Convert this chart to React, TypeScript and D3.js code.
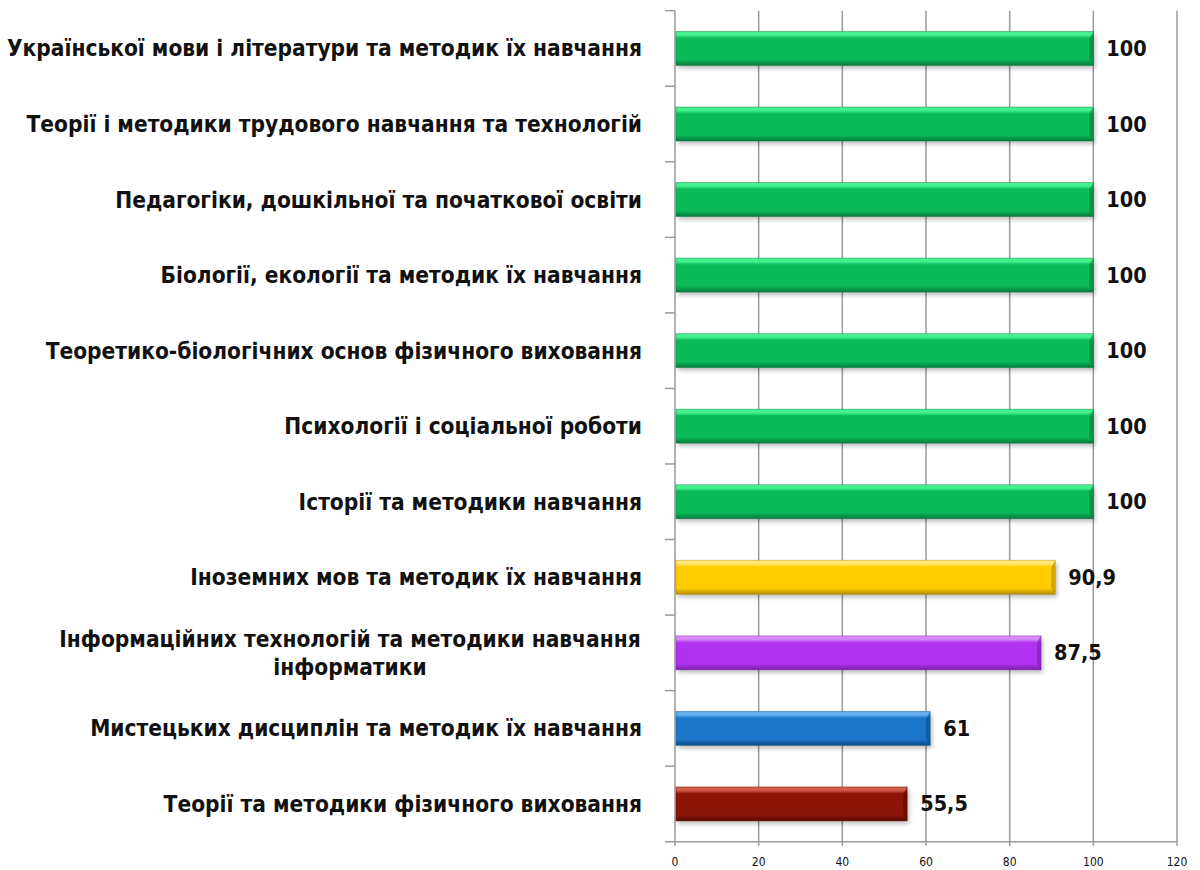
import React from "react";
import * as d3 from "d3";

const categories: string[][] = [
  ["Української мови і літератури та методик їх навчання"],
  ["Теорії і методики трудового навчання та технологій"],
  ["Педагогіки, дошкільної та початкової освіти"],
  ["Біології, екології та методик їх навчання"],
  ["Теоретико-біологічних основ фізичного виховання"],
  ["Психології і соціальної роботи"],
  ["Історії та методики навчання"],
  ["Іноземних мов та методик їх навчання"],
  ["Інформаційних технологій та методики навчання", "інформатики"],
  ["Мистецьких дисциплін та методик їх навчання"],
  ["Теорії та методики фізичного виховання"],
];
const values: number[] = [100, 100, 100, 100, 100, 100, 100, 90.9, 87.5, 61, 55.5];
const valueLabels: string[] = ["100", "100", "100", "100", "100", "100", "100", "90,9", "87,5", "61", "55,5"];
const colorKeys: string[] = ["green", "green", "green", "green", "green", "green", "green", "yellow", "purple", "blue", "red"];
const xTicks: number[] = [0, 20, 40, 60, 80, 100, 120];

const palette: Record<string, { light: string; main: string; dark: string }> = {
  green: { light: "#45f08f", main: "#0aba5b", dark: "#067a3c" },
  yellow: { light: "#ffe873", main: "#ffcc00", dark: "#b58a00" },
  purple: { light: "#d98aff", main: "#b133f2", dark: "#7a1eb0" },
  blue: { light: "#62aef0", main: "#1b75c9", dark: "#0d4d8c" },
  red: { light: "#d45a4a", main: "#8c1508", dark: "#560b03" },
};

const LEFT = 675;
const RIGHT = 1177;
const TOP = 10.7;
const BOTTOM = 841.7;
const FONT = "'Liberation Sans Narrow', 'DejaVu Sans Condensed', 'Arial Narrow', sans-serif";

export default function App() {
  const x = d3.scaleLinear().domain([0, 120]).range([LEFT, RIGHT]);
  const bandIdx = d3.range(categories.length);
  const y = d3.scaleBand<number>().domain(bandIdx).range([TOP, BOTTOM]).paddingInner(0.55).paddingOuter(0.275);
  const step = y.step();
  const bh = y.bandwidth();

  return (
    <svg width={1200} height={870} style={{ position: "absolute", left: 0, top: 0, background: "#fff" }}>
      <defs>
        {Object.entries(palette).map(([k, c]) => (
          <linearGradient key={k} id={`g-${k}`} x1="0" y1="0" x2="0" y2="1">
            <stop offset="0" stopColor={c.light} />
            <stop offset="0.1" stopColor={c.light} />
            <stop offset="0.2" stopColor={c.main} />
            <stop offset="0.82" stopColor={c.main} />
            <stop offset="1" stopColor={c.dark} />
          </linearGradient>
        ))}
        <filter id="shadow" x="-5%" y="-50%" width="110%" height="200%">
          <feGaussianBlur stdDeviation="2" />
        </filter>
      </defs>

      {/* gridlines */}
      {xTicks.slice(1).map((t) => (
        <line key={t} x1={x(t)} x2={x(t)} y1={TOP} y2={BOTTOM + 4} stroke="#9a9a9a" strokeWidth={1.5} />
      ))}
      {/* y axis */}
      <line x1={LEFT} x2={LEFT} y1={TOP} y2={BOTTOM + 4} stroke="#9a9a9a" strokeWidth={1.5} />
      {d3.range(categories.length + 1).map((i) => (
        <line key={i} x1={LEFT - 10} x2={LEFT} y1={TOP + i * step} y2={TOP + i * step} stroke="#9a9a9a" strokeWidth={1.5} />
      ))}
      {/* x axis */}
      <line x1={LEFT} x2={RIGHT} y1={BOTTOM} y2={BOTTOM} stroke="#9a9a9a" strokeWidth={1.5} />
      {xTicks.map((t) => (
        <text key={t} x={x(t)} y={866} textAnchor="middle" fontSize={12} fontFamily="'DejaVu Sans Condensed', 'DejaVu Sans', sans-serif" fill="#111">
          {t}
        </text>
      ))}

      {/* bars */}
      {values.map((v, i) => {
        const y0 = y(i)!;
        const x0 = x(0) + 1;
        const x1 = x(v);
        const c = palette[colorKeys[i]];
        const bev = 4;
        return (
          <g key={i}>
            <rect x={x0 + 2} y={y0 + 3} width={x1 - x0} height={bh} fill="#000" opacity={0.25} filter="url(#shadow)" />
            <rect x={x0} y={y0} width={x1 - x0} height={bh} fill={`url(#g-${colorKeys[i]})`} />
            <polygon
              points={`${x1 - bev},${y0 + bh * 0.2} ${x1},${y0} ${x1},${y0 + bh} ${x1 - bev},${y0 + bh * 0.8}`}
              fill={c.dark}
              opacity={0.6}
            />
            <rect x={x0} y={y0} width={x1 - x0} height={bh} fill="none" stroke={c.dark} strokeOpacity={0.5} strokeWidth={0.8} />
            <text
              x={x1 + 13}
              y={y0 + bh / 2 + 7.5}
              fontSize={21.5}
              fontWeight="bold"
              fontFamily={FONT}
              fill="#111"
            >
              {valueLabels[i]}
            </text>
          </g>
        );
      })}

      {/* category labels */}
      {categories.map((lines, i) => {
        const cy = y(i)! + bh / 2;
        const lh = 28;
        const n = lines.length;
        return (
          <text key={i} fontSize={22.5} fontWeight="bold" fontFamily={FONT} fill="#111">
            {lines.map((ln, j) => (
              <tspan
                key={j}
                x={n > 1 ? 350 : 642}
                textAnchor={n > 1 ? "middle" : "end"}
                y={cy + 8 + (j - (n - 1) / 2) * lh}
              >
                {ln}
              </tspan>
            ))}
          </text>
        );
      })}
    </svg>
  );
}
